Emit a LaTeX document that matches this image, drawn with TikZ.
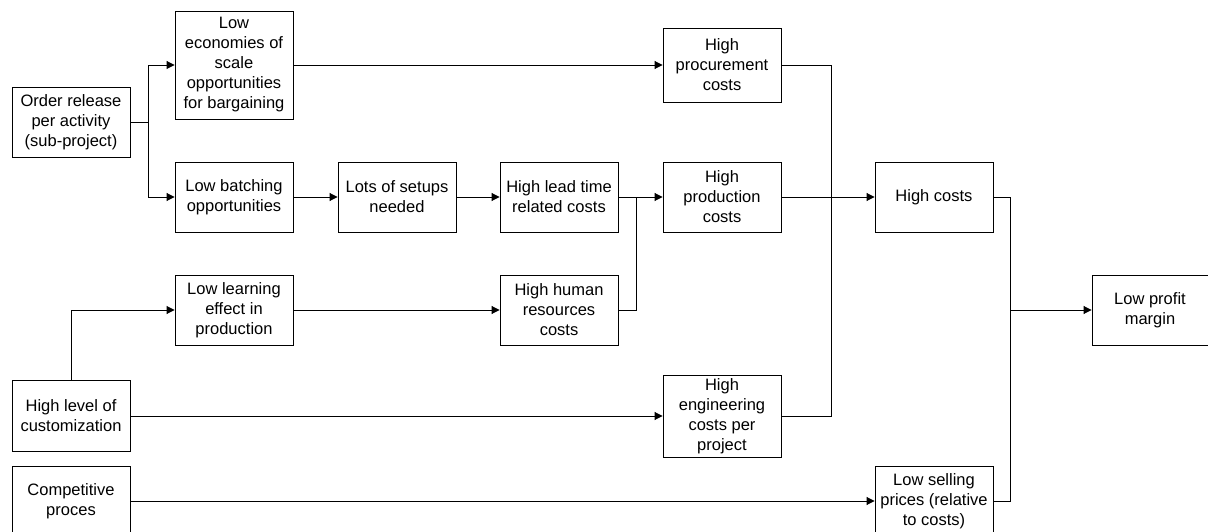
\documentclass[tikz,border=0pt]{standalone}
\usepackage{fontspec}
\setmainfont{Liberation Sans}
\usetikzlibrary{arrows.meta}
\begin{document}
\begin{tikzpicture}[x=1pt,y=-1pt,
  box/.style={draw=black,line width=0.9pt,minimum width=118pt,minimum height=70pt,
    inner sep=2pt,align=center,font=\fontsize{16.5}{20}\selectfont},
  link/.style={draw=black,line width=0.9pt},
  arr/.style={link,-{Triangle[length=8pt,width=8pt]}}]
\clip (0,0) rectangle (1208,532);

% causes and intermediate effects
\node[box] (order) at (71,122) {Order release\\per activity\\(sub-project)};
\node[box,minimum height=108pt] (scale) at (234,65) {Low\\economies of\\scale\\opportunities\\for bargaining};
\node[box] (batch) at (234,197) {Low batching\\opportunities};
\node[box] (setup) at (397,197) {Lots of setups\\needed};
\node[box] (lead) at (559,197) {High lead time\\related costs};
\node[box,minimum height=74pt] (proc) at (722,65) {High\\procurement\\costs};
\node[box] (prod) at (722,197) {High\\production\\costs};
\node[box] (costs) at (934,197) {High costs};
\node[box,minimum width=116pt] (margin) at (1150,310) {Low profit\\margin};
\node[box] (learn) at (234,310) {Low learning\\effect in\\production};
\node[box] (human) at (559,310) {High human\\resources\\costs};
\node[box,minimum height=71pt] (custom) at (71,416) {High level of\\customization};
\node[box] (compet) at (71,501) {Competitive\\proces};
\node[box,minimum height=82pt] (eng) at (722,416) {High\\engineering\\costs per\\project};
\node[box] (sell) at (934,501) {Low selling\\prices (relative\\to costs)};

% junction points
\coordinate (j1) at (148,122);
\coordinate (j2) at (636,197);
\coordinate (j3) at (831,197);
\coordinate (j4) at (1010,310);
\coordinate (j5) at (71,310);

% connectors
\draw[arr] (order.east) -- (j1) |- (scale.west);
\draw[arr] (j1) |- (batch.west);
\draw[arr] (batch) -- (setup);
\draw[arr] (setup) -- (lead);
\draw[arr] (lead.east) -- (prod.west);
\draw[link] (human.east) -| (j2);
\draw[arr] (scale.east |- proc.west) -- (proc.west);
\draw[link] (proc.east) -| (j3);
\draw[link] (eng.east) -| (j3);
\draw[arr] (prod.east) -- (costs.west);
\draw[link] (costs.east) -| (j4);
\draw[link] (sell.east) -| (j4);
\draw[arr] (j4) -- (margin.west);
\draw[arr] (custom.north) -- (j5) -- (learn.west);
\draw[arr] (learn) -- (human);
\draw[arr] (custom.east) -- (eng.west);
\draw[arr] (compet.east) -- (sell.west);
\end{tikzpicture}
\end{document}
